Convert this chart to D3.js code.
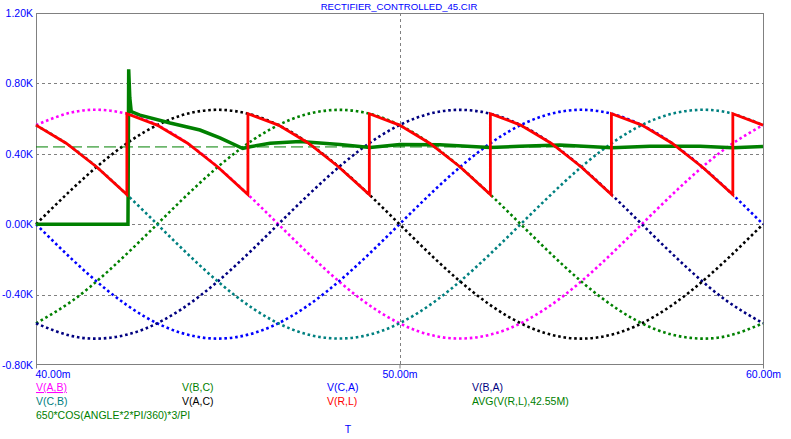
<!DOCTYPE html>
<html>
<head>
<meta charset="utf-8">
<script src="https://cdn.jsdelivr.net/npm/d3@7"></script>
<style>
  body { margin: 0; background: #fff; }
  text { font-family: "Liberation Sans", Arial, sans-serif; }
</style>
</head>
<body>
<div id="chart"></div>
<script>
// ---------- DATA (volts, time in ms) ----------
var timeMs = [40,41,42,43,44,45,46,47,48,49,50,51,52,53,54,55,56,57,58,59,60];

var vAB = [563,636,646,594,483,325,135,-68,-264,-435,-563,-636,-646,-594,-483,-325,-135,68,264,435,563];
var vBC = [-563,-435,-264,-68,135,325,483,594,646,636,563,435,264,68,-135,-325,-483,-594,-646,-636,-563];
var vCA = [0,-201,-382,-526,-618,-650,-618,-526,-382,-201,0,201,382,526,618,650,618,526,382,201,0];
var vBA = [-563,-636,-646,-594,-483,-325,-135,68,264,435,563,636,646,594,483,325,135,-68,-264,-435,-563];
var vCB = [563,435,264,68,-135,-325,-483,-594,-646,-636,-563,-435,-264,-68,135,325,483,594,646,636,563];
var vAC = [0,201,382,526,618,650,618,526,382,201,0,-201,-382,-526,-618,-650,-618,-526,-382,-201,0];

// output voltage V(R,L)
var rlTime = [40,40.83,41.67,42.5, 42.5,43.33,44.17,45,45.83, 45.83,46.67,47.5,48.33,49.17,
              49.17,50,50.83,51.67,52.5, 52.5,53.33,54.17,55,55.83, 55.83,56.67,57.5,58.33,59.17, 59.17,60];
var rlVal  = [563,460,325,168, 628,563,460,325,168, 628,563,460,325,168,
              628,563,460,325,168, 628,563,460,325,168, 628,563,460,325,168, 628,563];

// running average AVG(V(R,L),42.55M)
var avgTime = [40,42.53,42.55,42.58,42.62,42.86,43.69,44.51,45.06,45.69,45.89,46.44,47.26,48.36,
               49.19,50.01,51.11,52.49,53.31,54.41,55.85,56.89,58.27,59.17,60];
var avgVal  = [0,0,880,720,640,620,575,535,490,430,440,460,470,453,
               436,453,452,436,443,450,434,443,443,434,441];

// 650*cos(45 deg)*3/pi
var refLevel = 439;

var yTicks = [1200,800,400,0,-400,-800];
var yLabels = ["1.20K","0.80K","0.40K","0.00K","-0.40K","-0.80K"];
var xTicks = [40,50,60];
var xLabels = ["40.00m","50.00m","60.00m"];

var legendRow1 = ["V(A,B)","V(B,C)","V(C,A)","V(B,A)"];
var legendRow1Colors = ["#ff00ff","#008000","#0000ff","#000080"];
var legendRow2 = ["V(C,B)","V(A,C)","V(R,L)","AVG(V(R,L),42.55M)"];
var legendRow2Colors = ["#008080","#000000","#ff0000","#008000"];
var legendRow3 = ["650*COS(ANGLE*2*PI/360)*3/PI"];

// ---------- CHART ----------
var W = 791, H = 439;
var pLeft = 36, pTop = 13, pRight = 763, pBottom = 365;

var svg = d3.select('#chart').append('svg')
    .attr('width', W)
    .attr('height', H);

var x = d3.scaleLinear().domain([40,60]).range([pLeft,pRight]);
var y = d3.scaleLinear().domain([-800,1200]).range([pBottom,pTop]);

// title
svg.append('text')
    .attr('x', 399).attr('y', 9.5)
    .attr('text-anchor','middle')
    .style('font-size','9.6px')
    .style('fill','#0000ff')
    .text('RECTIFIER_CONTROLLED_45.CIR');

// grid
[800,400,0,-400].forEach(function(v){
    svg.append('line')
        .attr('x1', pLeft).attr('x2', pRight)
        .attr('y1', Math.round(y(v))+0.5).attr('y2', Math.round(y(v))+0.5)
        .attr('stroke','#808080').attr('stroke-dasharray','3,3');
});
svg.append('line')
    .attr('x1', Math.round(x(50))+0.5).attr('x2', Math.round(x(50))+0.5)
    .attr('y1', pTop).attr('y2', pBottom)
    .attr('stroke','#808080').attr('stroke-dasharray','3,3');

// y axis labels
var yAxis = d3.axisLeft(y)
    .tickValues(yTicks)
    .tickSize(0)
    .tickPadding(3)
    .tickFormat(function(d,i){ return yLabels[i]; });
var gy = svg.append('g').attr('transform','translate(' + pLeft + ',0)').call(yAxis);
gy.select('.domain').remove();
gy.selectAll('text')
    .style('font-size','10.5px')
    .style('font-family','"Liberation Sans", Arial, sans-serif')
    .attr('fill','#0000ff');

// x axis labels
var xAxis = d3.axisBottom(x)
    .tickValues(xTicks)
    .tickSize(4)
    .tickPadding(2)
    .tickFormat(function(d,i){ return xLabels[i]; });
var gx = svg.append('g').attr('transform','translate(0,' + (pBottom-0.5) + ')').call(xAxis);
gx.select('.domain').remove();
gx.selectAll('line').attr('stroke','#808080');
gx.selectAll('text')
    .style('font-size','10.5px')
    .style('font-family','"Liberation Sans", Arial, sans-serif')
    .attr('fill','#0000ff');
gx.selectAll('text').filter(function(d){ return d == 40; })
    .attr('text-anchor','start').attr('x', -1);

// frame
svg.append('rect')
    .attr('x', pLeft+0.5).attr('y', pTop+0.5)
    .attr('width', pRight-pLeft).attr('height', pBottom-pTop-1)
    .attr('fill','none').attr('stroke','#808080');

// dotted sinusoids
var sineLine = d3.line()
    .x(function(d,i){ return x(timeMs[i]); })
    .y(function(d){ return y(d); })
    .curve(d3.curveNatural);

var sines = [
    {v: vAB, c: '#ff00ff'},
    {v: vBC, c: '#008000'},
    {v: vCA, c: '#0000ff'},
    {v: vBA, c: '#000080'},
    {v: vCB, c: '#008080'},
    {v: vAC, c: '#000000'}
];
sines.forEach(function(s){
    svg.append('path')
        .datum(s.v)
        .attr('d', sineLine)
        .attr('fill','none')
        .attr('stroke', s.c)
        .attr('stroke-width', 2.6)
        .attr('stroke-dasharray','2.6,2.8');
});

// reference level, dashed
svg.append('line')
    .attr('x1', pLeft).attr('x2', pRight)
    .attr('y1', y(refLevel)).attr('y2', y(refLevel))
    .attr('stroke','#008000').attr('stroke-width',1)
    .attr('stroke-dasharray','12,5');

// average
var avgLine = d3.line()
    .x(function(d,i){ return x(avgTime[i]); })
    .y(function(d){ return y(d); });
svg.append('path')
    .datum(avgVal)
    .attr('d', avgLine)
    .attr('fill','none')
    .attr('stroke','#008000')
    .attr('stroke-width',3.5);

// V(R,L)
var rlLine = d3.line()
    .x(function(d,i){ return x(rlTime[i]); })
    .y(function(d){ return y(d); });
svg.append('path')
    .datum(rlVal)
    .attr('d', rlLine)
    .attr('fill','none')
    .attr('stroke','#ff0000')
    .attr('stroke-width',2.8);

// legend
var colX = [36,182,327,472];
legendRow1.forEach(function(t,i){
    svg.append('text')
        .attr('x', colX[i]).attr('y', 391)
        .style('font-size','10.5px')
        .style('fill', legendRow1Colors[i])
        .style('text-decoration', i == 0 ? 'underline' : 'none')
        .text(t);
});
legendRow2.forEach(function(t,i){
    svg.append('text')
        .attr('x', colX[i]).attr('y', 405)
        .style('font-size','10.5px')
        .style('fill', legendRow2Colors[i])
        .text(t);
});
svg.append('text')
    .attr('x', colX[0]).attr('y', 419)
    .style('font-size','10.5px')
    .style('fill','#008000')
    .text(legendRow3[0]);

svg.append('text')
    .attr('x', 348).attr('y', 433)
    .attr('text-anchor','middle')
    .style('font-size','10.5px')
    .style('fill','#0000ff')
    .text('T');
</script>
</body>
</html>
